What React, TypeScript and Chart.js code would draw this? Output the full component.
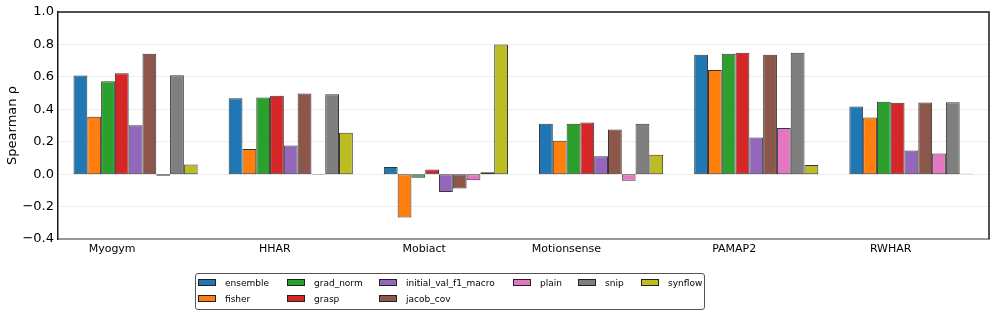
import React, { useEffect, useRef } from "react";
import { Chart, registerables } from "chart.js";

Chart.register(...registerables);

const categories = ["Myogym", "HHAR", "Mobiact", "Motionsense", "PAMAP2", "RWHAR"];

const seriesNames = [
  "ensemble",
  "fisher",
  "grad_norm",
  "grasp",
  "initial_val_f1_macro",
  "jacob_cov",
  "plain",
  "snip",
  "synflow",
];

const seriesColors = [
  "#1f77b4",
  "#ff7f0e",
  "#2ca02c",
  "#d62728",
  "#9467bd",
  "#8c564b",
  "#e377c2",
  "#7f7f7f",
  "#bcbd22",
];

const ensemble = [0.608, 0.468, 0.044, 0.311, 0.737, 0.417];
const fisher = [0.354, 0.155, -0.268, 0.206, 0.643, 0.35];
const grad_norm = [0.573, 0.473, -0.022, 0.311, 0.743, 0.446];
const grasp = [0.622, 0.483, 0.028, 0.319, 0.748, 0.44];
const initial_val_f1_macro = [0.302, 0.177, -0.11, 0.11, 0.226, 0.146];
const jacob_cov = [0.743, 0.497, -0.089, 0.276, 0.737, 0.442];
const plain = [-0.01, -0.004, -0.038, -0.04, 0.284, 0.128];
const snip = [0.61, 0.493, 0.011, 0.311, 0.748, 0.444];
const synflow = [0.06, 0.255, 0.8, 0.12, 0.056, 0.002];

const seriesValues = [
  ensemble,
  fisher,
  grad_norm,
  grasp,
  initial_val_f1_macro,
  jacob_cov,
  plain,
  snip,
  synflow,
];

const yMin = -0.4;
const yMax = 1.0;
const yStep = 0.2;
const yTitle = "Spearman ρ";

const FONT = "'DejaVu Sans', sans-serif";

// legend layout: column-major, 2 rows
const legendOrder = [0, 2, 4, 6, 7, 8, 1, 3, 5];
const legendCols = [198, 287, 379, 513, 578, 641];

export default function App() {
  const ref = useRef<HTMLCanvasElement | null>(null);

  useEffect(() => {
    if (!ref.current) return;
    const framePlugin = {
      id: "frame",
      afterDraw(chart: any) {
        const { ctx, chartArea } = chart;
        ctx.save();
        ctx.strokeStyle = "#1a1a1a";
        ctx.lineWidth = 1.5;
        ctx.beginPath();
        ctx.moveTo(chartArea.left, chartArea.top);
        ctx.lineTo(chartArea.right, chartArea.top);
        ctx.lineTo(chartArea.right, chartArea.bottom);
        ctx.stroke();
        ctx.restore();
      },
    };
    const chart = new Chart(ref.current, {
      type: "bar",
      data: {
        labels: categories,
        datasets: seriesNames.map((name, i) => ({
          label: name,
          data: seriesValues[i],
          backgroundColor: seriesColors[i],
          borderColor: "rgba(20,20,20,0.85)",
          borderWidth: 1,
          borderSkipped: false,
          barPercentage: 1.0,
          categoryPercentage: 0.8,
        })),
      },
      options: {
        animation: false,
        responsive: false,
        maintainAspectRatio: false,
        layout: { padding: { top: 12, right: 7, left: 0, bottom: 0 } },
        plugins: {
          legend: { display: false },
          tooltip: { enabled: false },
        },
        scales: {
          x: {
            type: "category",
            offset: true,
            grid: { display: false, drawTicks: false },
            border: { display: true, color: "#999999", width: 2 },
            ticks: {
              align: "end",
              maxRotation: 0,
              minRotation: 0,
              autoSkip: false,
              padding: 4,
              color: "#000",
              font: { family: FONT, size: 11 },
            },
            afterFit: (s: any) => {
              s.height = 78;
            },
          },
          y: {
            min: yMin,
            max: yMax,
            grid: { color: "#eeeeee", lineWidth: 1, drawTicks: false },
            border: { display: true, color: "#1a1a1a", width: 1.5 },
            ticks: {
              stepSize: yStep,
              padding: 4,
              color: "#000",
              font: { family: FONT, size: 13 },
              callback: (v: any) => {
                const n = Number(v);
                if (Math.abs(n) < 1e-9) return "0.0";
                return n.toFixed(1).replace("-", "\u2212");
              },
            },
            title: {
              display: true,
              text: yTitle,
              color: "#000",
              font: { family: FONT, size: 13 },
              padding: { top: 5, bottom: 0 },
            },
            afterFit: (s: any) => {
              s.width = 58;
            },
          },
        },
      },
      plugins: [framePlugin],
    });
    return () => chart.destroy();
  }, []);

  return (
    <div style={{ position: "absolute", left: 0, top: 0, width: 996, height: 317, background: "#fff" }}>
      <canvas ref={ref} width={996} height={317} style={{ position: "absolute", left: 0, top: 0, width: 996, height: 317 }} />
      <div
        style={{
          position: "absolute",
          left: 195,
          top: 273,
          width: 510,
          height: 37,
          border: "1px solid #555",
          borderRadius: 3,
          boxSizing: "border-box",
        }}
      />
      {legendOrder.map((si, k) => {
        const col = k < 6 ? k : k - 6;
        const row = k < 6 ? 0 : 1;
        const x = legendCols[col];
        const cy = row === 0 ? 283 : 299;
        return (
          <div key={si}>
            <div
              style={{
                position: "absolute",
                left: x,
                top: cy - 4,
                width: 18,
                height: 7,
                background: seriesColors[si],
                border: "1px solid #222",
                boxSizing: "border-box",
              }}
            />
            <div
              style={{
                position: "absolute",
                left: x + 27,
                top: cy - 7,
                height: 14,
                lineHeight: "14px",
                fontFamily: FONT,
                fontSize: 9,
                color: "#000",
                whiteSpace: "nowrap",
              }}
            >
              {seriesNames[si]}
            </div>
          </div>
        );
      })}
    </div>
  );
}
